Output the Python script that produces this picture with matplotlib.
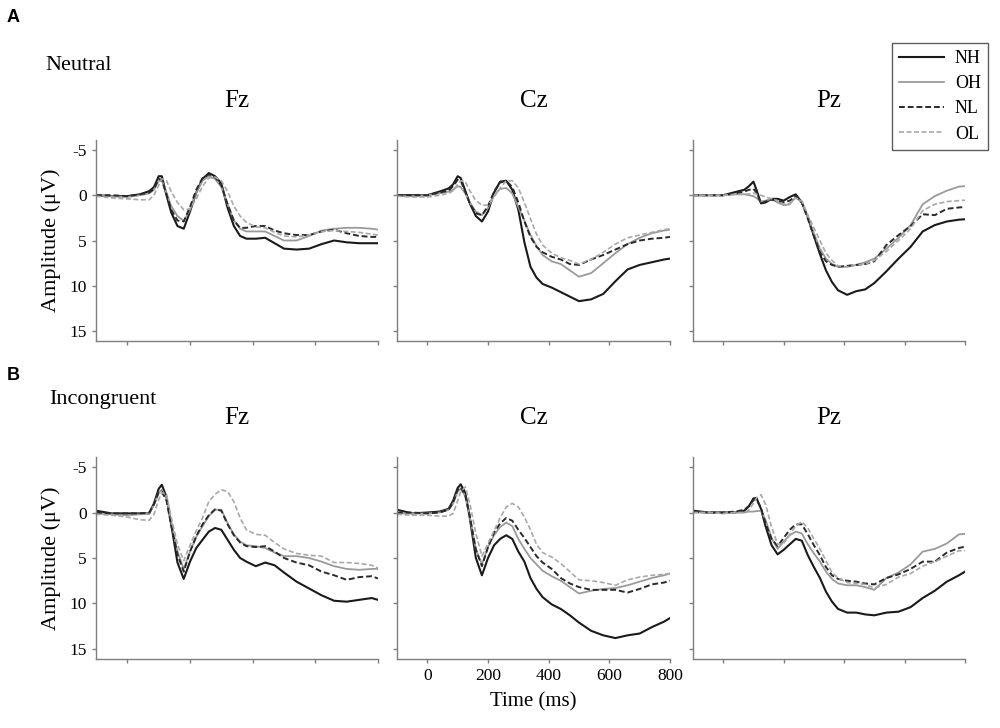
import matplotlib
matplotlib.use('Agg')
import matplotlib.pyplot as plt
from matplotlib.lines import Line2D

plt.rcParams['font.family'] = ['Liberation Serif', 'DejaVu Serif']
plt.rcParams['axes.unicode_minus'] = False

time_ms = [-100, -50, 0, 40, 70, 85, 100, 110, 125, 140, 160, 180, 200, 220, 240, 260, 280,
           300, 320, 340, 360, 380,
           410, 440, 470, 500, 540, 580, 620, 660, 700, 740, 780, 800]

groups = ['NH', 'OH', 'NL', 'OL']
sites = ['Fz', 'Cz', 'Pz']

# ---- Neutral ----
neu_fz_nh = [0, 0.1, 0.1, -0.1, -0.45, -0.9, -2.1, -2.1, 0.0, 1.9, 3.4, 3.7, 1.8, -0.3, -1.8, -2.45, -2.1,
             -1.3, 1.4, 3.4, 4.5, 4.8,
             4.8, 4.7, 5.3, 5.9, 6.0, 5.9, 5.4, 5.0, 5.2, 5.3, 5.3, 5.3]
neu_fz_oh = [0, 0.1, 0.2, 0, -0.2, -0.6, -1.6, -1.6, -0.3, 1.2, 2.3, 2.85, 1.6, -0.3, -1.6, -2.1, -1.8,
             -0.9, 1.0, 2.8, 3.7, 4.0,
             4.0, 4.0, 4.5, 5.0, 5.0, 4.5, 3.9, 3.7, 3.6, 3.6, 3.7, 3.8]
neu_fz_nl = [0, 0, 0.1, -0.1, -0.3, -0.7, -1.8, -1.7, -0.1, 1.6, 2.8, 2.9, 1.3, -0.6, -1.9, -2.3, -2.0,
             -1.1, 1.0, 2.8, 3.6, 3.6,
             3.4, 3.4, 3.9, 4.2, 4.4, 4.4, 4.0, 3.8, 4.2, 4.5, 4.6, 4.6]
neu_fz_ol = [0.1, 0.3, 0.4, 0.5, 0.5, 0.0, -1.1, -1.8, -1.6, -0.4, 0.8, 1.6, 1.5, 0.4, -1.0, -1.9, -2.0,
             -1.6, -0.4, 1.2, 2.3, 3.0,
             3.5, 3.6, 4.1, 4.5, 4.6, 4.4, 4.0, 3.9, 4.0, 4.1, 4.3, 4.4]

neu_cz_nh = [0, 0, 0, -0.4, -0.75, -1.2, -2.1, -1.9, -0.5, 0.9, 2.3, 2.9, 1.8, -0.3, -1.5, -1.6, -0.6,
             1.6, 5.2, 7.9, 9.1, 9.8,
             10.2, 10.7, 11.2, 11.7, 11.5, 10.9, 9.5, 8.2, 7.7, 7.4, 7.1, 7.0]
neu_cz_oh = [0.1, 0.1, 0, -0.2, -0.4, -0.6, -1.0, -0.9, -0.2, 0.8, 1.8, 2.2, 1.4, 0.0, -0.7, -0.8, -0.2,
             1.3, 2.8, 4.4, 5.6, 6.6,
             7.3, 7.6, 8.3, 9.0, 8.6, 7.5, 6.4, 5.4, 4.7, 4.2, 3.9, 3.8]
neu_cz_nl = [0, 0, 0, -0.3, -0.5, -1.0, -1.7, -1.6, -0.4, 0.9, 2.0, 2.2, 1.2, -0.4, -1.4, -1.6, -0.9,
             0.8, 2.9, 4.6, 5.7, 6.3,
             6.8, 7.1, 7.6, 7.7, 7.1, 6.6, 6.0, 5.4, 5.0, 4.8, 4.7, 4.6]
neu_cz_ol = [0.1, 0.2, 0.2, 0, -0.2, -0.5, -1.2, -1.6, -1.5, -0.5, 0.6, 1.1, 1.1, 0.2, -0.8, -1.6, -1.6,
             -0.8, 0.8, 2.6, 4.3, 5.5,
             6.4, 6.9, 7.2, 7.6, 7.1, 6.3, 5.4, 4.7, 4.4, 4.1, 3.8, 3.7]

neu_pz_nh = [0, 0, 0, -0.35, -0.6, -1.0, -1.5, -0.6, 0.9, 0.8, 0.4, 0.4, 0.6, 0.2, -0.1, 0.8, 2.4,
             4.5, 6.5, 8.3, 9.6, 10.5,
             11.0, 10.6, 10.4, 9.7, 8.4, 7.0, 5.7, 4.0, 3.3, 2.9, 2.7, 2.65]
neu_pz_oh = [0, 0, 0, -0.1, -0.1, 0, 0.1, 0.3, 0.7, 0.6, 0.4, 0.8, 1.1, 1.0, 0.2, 0.8, 2.4,
             4.2, 5.9, 7.0, 7.6, 7.9,
             7.9, 7.7, 7.4, 7.0, 5.9, 4.7, 3.3, 1.0, 0.1, -0.5, -0.95, -1.0]
neu_pz_nl = [0, 0, 0, -0.2, -0.4, -0.6, -0.7, -0.3, 0.9, 0.7, 0.5, 0.6, 0.8, 0.6, 0.1, 0.8, 2.6,
             4.5, 6.3, 7.3, 7.7, 7.9,
             7.8, 7.7, 7.6, 7.3, 5.5, 4.4, 3.4, 2.1, 2.2, 1.5, 1.35, 1.3]
neu_pz_ol = [0, 0, 0, -0.1, -0.1, -0.15, -0.25, -0.1, 0, 0.2, 0.4, 0.6, 1.0, 0.9, 0.3, 0.6, 2.2,
             3.6, 5.0, 6.4, 7.2, 7.8,
             7.9, 7.7, 7.6, 7.2, 6.2, 5.0, 3.7, 1.7, 1.0, 0.7, 0.6, 0.55]

# ---- Incongruent ----
inc_fz_nh = [-0.2, 0.1, 0.1, 0.1, 0.1, -1.0, -2.6, -3.05, -1.7, 1.3, 5.5, 7.3, 5.4, 3.9, 3.0, 2.1, 1.7,
             1.9, 3.0, 4.1, 5.0, 5.4,
             5.9, 5.5, 5.8, 6.6, 7.6, 8.35, 9.1, 9.7, 9.8, 9.6, 9.4, 9.6]
inc_fz_oh = [0.1, 0.2, 0.3, 0.2, 0.1, -0.8, -2.2, -2.5, -1.5, 1.0, 4.3, 6.2, 4.3, 2.7, 1.5, 0.4, -0.3,
             -0.3, 1.2, 2.4, 3.2, 3.6,
             3.7, 3.9, 4.4, 4.8, 4.8, 5.0, 5.4, 5.9, 6.2, 6.3, 6.2, 6.2]
inc_fz_nl = [0, 0.1, 0.1, 0.1, 0, -0.9, -2.2, -2.3, -1.3, 1.4, 4.6, 6.5, 4.3, 2.6, 1.3, 0.3, -0.35,
             -0.2, 1.3, 2.5, 3.3, 3.7,
             3.8, 3.7, 4.3, 5.0, 5.5, 5.8, 6.5, 6.9, 7.4, 7.1, 7.0, 7.25]
inc_fz_ol = [0.2, 0.3, 0.5, 0.8, 0.85, 0.2, -1.4, -2.2, -2.0, 0.5, 3.5, 5.3, 3.6, 2.0, 0.6, -1.2, -2.0,
             -2.5, -2.3, -1.2, 0.6, 1.9,
             2.4, 2.5, 3.3, 4.0, 4.5, 4.7, 4.8, 5.5, 5.5, 5.6, 5.8, 6.1]

inc_cz_nh = [-0.3, 0.1, 0, -0.1, -0.4, -1.3, -2.7, -3.1, -2.2, 0.6, 5.0, 6.9, 5.0, 3.6, 2.9, 2.5, 2.9,
             4.3, 5.4, 7.2, 8.4, 9.3,
             10.1, 10.6, 11.3, 12.1, 13.0, 13.5, 13.8, 13.5, 13.3, 12.6, 12.0, 11.6]
inc_cz_oh = [0.1, 0.1, 0.1, 0, -0.3, -1.0, -2.3, -2.6, -1.8, 0.5, 4.0, 5.7, 3.8, 2.5, 1.6, 1.1, 1.5,
             2.9, 4.0, 5.0, 5.7, 6.4,
             7.0, 7.5, 8.2, 8.9, 8.6, 8.4, 8.3, 8.0, 7.6, 7.2, 6.9, 6.7]
inc_cz_nl = [0, 0, 0.1, 0, -0.3, -1.1, -2.5, -2.8, -1.9, 0.4, 4.1, 5.9, 3.8, 2.2, 1.2, 0.6, 0.9,
             1.9, 2.8, 3.8, 4.8, 5.5,
             6.2, 7.2, 7.8, 8.2, 8.5, 8.5, 8.5, 8.8, 8.4, 7.9, 7.7, 7.5]
inc_cz_ol = [0.2, 0.3, 0.3, 0.4, 0.4, 0.1, -1.3, -2.3, -2.8, -1.0, 2.3, 4.8, 3.4, 2.0, 0.6, -0.6, -1.0,
             -0.6, 0.5, 1.9, 3.5, 4.4,
             4.9, 5.6, 6.5, 7.4, 7.5, 7.7, 8.0, 7.4, 7.1, 6.9, 6.8, 6.7]

inc_pz_nh = [-0.2, 0, 0, 0, -0.2, -0.7, -1.55, -1.6, -0.4, 1.5, 3.6, 4.6, 4.1, 3.5, 2.9, 3.1, 4.7,
             6.0, 7.2, 8.7, 9.8, 10.6,
             11.0, 11.0, 11.2, 11.3, 11.0, 10.9, 10.4, 9.4, 8.6, 7.6, 6.9, 6.5]
inc_pz_oh = [0, 0, 0.1, 0, 0, -0.1, -0.1, -0.15, -0.2, 0.8, 2.8, 4.0, 3.2, 2.5, 2.1, 2.3, 3.5,
             4.5, 5.4, 6.5, 7.3, 7.8,
             8.0, 8.0, 8.2, 8.5, 7.2, 6.6, 5.7, 4.3, 4.0, 3.4, 2.4, 2.35]
inc_pz_nl = [-0.1, 0, 0, -0.1, -0.3, -0.7, -1.35, -1.4, -0.5, 1.2, 2.9, 3.7, 2.8, 1.9, 1.3, 1.3, 2.4,
             3.6, 4.7, 6.0, 6.9, 7.3,
             7.5, 7.6, 7.8, 7.9, 7.2, 6.8, 6.2, 5.4, 5.4, 4.4, 3.9, 3.75]
inc_pz_ol = [0, 0, 0.1, 0, 0, -0.3, -1.0, -1.6, -1.95, -0.9, 1.6, 3.5, 3.4, 2.4, 1.5, 1.0, 1.7,
             2.9, 4.0, 5.3, 6.6, 7.2,
             7.7, 7.8, 7.9, 8.3, 7.9, 7.1, 6.7, 5.9, 5.4, 4.8, 4.2, 4.2]

neutral = [[neu_fz_nh, neu_fz_oh, neu_fz_nl, neu_fz_ol],
           [neu_cz_nh, neu_cz_oh, neu_cz_nl, neu_cz_ol],
           [neu_pz_nh, neu_pz_oh, neu_pz_nl, neu_pz_ol]]
incongruent = [[inc_fz_nh, inc_fz_oh, inc_fz_nl, inc_fz_ol],
               [inc_cz_nh, inc_cz_oh, inc_cz_nl, inc_cz_ol],
               [inc_pz_nh, inc_pz_oh, inc_pz_nl, inc_pz_ol]]

styles = {
    'NH': dict(color='#1a1a1a', lw=1.5, ls='-'),
    'OH': dict(color='#9a9a9a', lw=1.3, ls='-'),
    'NL': dict(color='#2a2a2a', lw=1.4, ls=(0, (3, 1.5))),
    'OL': dict(color='#a8a8a8', lw=1.2, ls=(0, (3, 1.5))),
}

W, H = 1000, 728
fig = plt.figure(figsize=(10, 7.28), dpi=100)

col_px = [(96, 282), (397, 273), (693, 272)]
row_px = [(140, 341), (457, 659)]  # top, bottom in pixels
spine_col = '#7f7f7f'


def make_ax(r, c):
    left, width = col_px[c]
    top, bottom = row_px[r]
    ax = fig.add_axes([left / W, 1 - bottom / H, width / W, (bottom - top) / H])
    for s in ['top', 'right']:
        ax.spines[s].set_visible(False)
    for s in ['left', 'bottom']:
        ax.spines[s].set_color(spine_col)
        ax.spines[s].set_linewidth(1.0)
    ax.set_xlim(-100, 800)
    ax.set_ylim(16.1, -6.1)
    ax.set_xticks([0, 200, 400, 600, 800])
    ax.set_yticks([-5, 0, 5, 10, 15])
    ax.tick_params(colors=spine_col, length=3, width=1.0, labelcolor='black', labelsize=12.5)
    return ax


for r, data in enumerate([neutral, incongruent]):
    for c in range(3):
        ax = make_ax(r, c)
        for g, vals in zip(groups, data[c]):
            ax.plot(time_ms, vals, **styles[g])
        ax.set_title(sites[c], fontsize=18, pad=24)
        if c == 0:
            ax.set_ylabel('Amplitude (\u03bcV)', fontsize=16, labelpad=6)
        else:
            ax.set_yticklabels([])
        if r == 1 and c == 1:
            ax.set_xlabel('Time (ms)', fontsize=15, labelpad=6)
        else:
            ax.set_xticklabels([])

fig.text(7 / W, 1 - 9 / H, 'A', family='Liberation Sans', weight='bold', fontsize=13, va='top')
fig.text(7 / W, 1 - 367 / H, 'B', family='Liberation Sans', weight='bold', fontsize=13, va='top')
fig.text(45 / W, 1 - 70 / H, 'Neutral', fontsize=16, va='baseline')
fig.text(49 / W, 1 - 404 / H, 'Incongruent', fontsize=16, va='baseline')

handles = [Line2D([], [], **styles[g]) for g in groups]
leg = fig.legend(handles, groups, loc='upper right', bbox_to_anchor=(988 / W, 1 - 43 / H),
                 frameon=True, fancybox=False, fontsize=13, handlelength=2.5,
                 handletextpad=0.6, labelspacing=0.45, borderpad=0.4, borderaxespad=0)
leg.get_frame().set_edgecolor('#333333')
leg.get_frame().set_linewidth(1.0)

fig.savefig('out.png', dpi=100)
